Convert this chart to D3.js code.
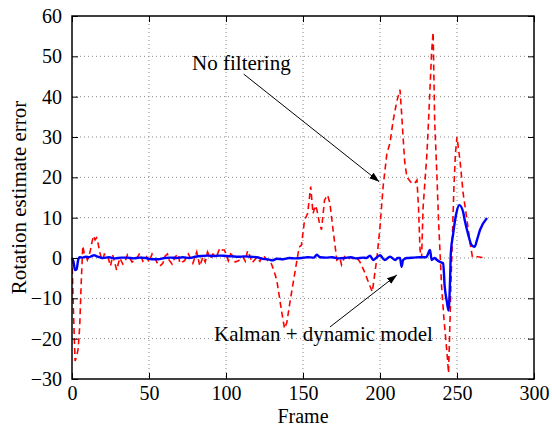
<!DOCTYPE html>
<html>
<head>
<meta charset="utf-8">
<script src="https://cdn.jsdelivr.net/npm/d3@7"></script>
<style>
  body { margin: 0; background: #fff; }
  svg text { font-family: "Liberation Serif", "Times New Roman", serif !important; }
</style>
</head>
<body>
<div id="chart"></div>
<script>
// x ticks / y ticks
var xTicks = [0, 50, 100, 150, 200, 250, 300];
var yTicks = [-30, -20, -10, 0, 10, 20, 30, 40, 50, 60];

// "No filtering" series (red dashed)
var rawFrames = [0, 1, 2, 3, 4, 5, 6, 7, 8, 9, 10, 11, 12, 13, 14, 15, 16, 17, 18, 19, 20, 21, 23, 25, 26.5, 29, 31, 33, 34.5, 36, 37.5, 39, 41, 43, 44, 46, 48.5, 50, 52, 54, 55, 57, 59, 60.5, 62, 63, 65, 67, 69, 70, 73, 75.5, 77, 78.5, 81, 83, 85, 86.5, 88, 90, 91.5, 94, 96, 97.5, 99, 101.5, 103, 104.5, 106, 108, 111, 112.5, 114, 115.5, 117, 120, 122, 124, 127, 129, 131, 133, 136, 138, 139.5, 141.5, 145, 147.5, 149, 151, 153, 155, 156.5, 158, 159, 160.5, 162, 164, 166, 167.5, 169.5, 172, 174, 175, 177, 179, 181, 183, 185, 187, 190, 192, 195, 198, 200, 202, 204.5, 206.5, 208.5, 211, 213, 214, 215, 216, 217.5, 220.5, 222.5, 224, 225, 226, 227, 228, 230.5, 232, 233.5, 234.5, 235.5, 237, 238, 239, 240, 241.5, 243.5, 244.5, 245.5, 246, 247, 248, 249, 250, 252, 254, 256.5, 258.5, 260, 263.5, 269];
var rawValues = [0, -14, -25.5, -24.5, -22.5, -17, -6, 3, 1, 0.5, -0.5, 0.5, 2, 4, 5.5, 4.5, 5, 3.5, 1.5, 0, -0.5, 1, 0.7, -2, 0.7, -3, 0, -1.5, -0.8, 0.8, 0, -1, -0.5, 0.5, 1.2, -0.8, 0.3, -1, 1, 0, -1, -2, -1.3, 0.5, 1, -0.5, -1.5, 0.3, 1, -1.3, -0.7, 1, 0, -1.3, 1.5, -2, 0.3, -1, 1.5, 0, 1, 0.5, 2.5, 2, 2, -0.7, 1, 0.5, -1, -0.7, 0.3, -0.8, 1.8, 0.5, -1.2, 0.2, -0.8, 0.7, -0.6, -1, -3, -5.5, -13, -17.5, -16, -11, -3, 2.7, 3.2, 9.4, 11, 17.7, 11, 13, 12, 9, 7, 14.4, 15.6, 13.5, 7, -0.5, 0, -1.7, 0.3, -0.5, 0.2, -0.3, 0, -1, -3.5, -5.5, -8.4, 0, 7.7, 17.6, 26, 28.5, 34, 39, 41.7, 36, 30, 24, 20, 18.6, 18.5, 19.3, 12.6, 2, 0, 12.6, 26, 38, 51, 56, 34, 20, 9.4, 1.2, -7, -15, -23.5, -28.5, -15, -7, 5, 17.6, 26, 30, 24, 16, 9.4, 3.7, 0.3, 0.3, 0];

// "Kalman + dynamic model" series (blue solid)
var kalFrames = [0, 1, 2, 3, 4, 5, 7, 9, 11, 13, 14.5, 16, 18, 20, 24, 28, 32, 36, 40, 44, 48, 52, 56, 60, 64, 68, 72, 76, 80, 84, 88, 92, 96, 100, 104, 108, 112, 116, 120, 124, 128, 130, 133, 137, 141, 145, 149, 153, 157, 159, 161, 165, 169, 173, 177, 181, 185, 189, 191, 193.5, 195.5, 198, 200, 203, 206.5, 210, 211.5, 213, 214, 215, 217.5, 222, 226, 230, 232.5, 233.5, 235.5, 237, 239, 241, 242, 243.5, 244.5, 245.5, 246, 247.5, 249.5, 251.5, 254, 255, 257, 259.5, 261.5, 263, 265, 269.5];
var kalValues = [0, -1, -3, -2.8, -0.5, 0.2, 0.1, 0.3, 0.2, 0.5, 0.7, 0.4, 0.2, 0, 0.2, -0.1, 0.1, 0.1, -0.1, 0.1, 0, -0.3, -0.3, 0, 0.1, 0, 0.2, 0, 0.3, 0.5, 0.6, 0.5, 0.6, 0.5, 0.4, 0.3, 0.4, 0.3, 0.2, -0.2, -0.4, -0.6, -0.2, -0.3, 0, -0.1, 0, 0.2, 0.1, 0.8, 0.2, 0.1, 0.2, -0.1, 0, 0.2, -0.1, 0.1, 0, 0.6, -0.5, 0.2, 0.7, -0.5, 0.3, -0.5, 0, 0, -2.2, -0.5, 0, 0.1, 0.2, 0.2, 2, -0.5, 0, -0.5, -1, -1.3, -7, -11, -13, -5.5, 1.2, 6, 11, 13.1, 11.4, 9.4, 6.2, 3.2, 2.8, 4.5, 7, 9.9];

// annotations, in data units
var noteLabels = ["No filtering", "Kalman + dynamic model"];
var noteText = [[78, 46.6], [92.2, -20.6]];
var noteArrowFrom = [[111.5, 45.6], [167.5, -17.1]];
var noteArrowTo = [[199.5, 18.9], [211, -4.2]];

var W = 552, H = 427;
var margin = {left: 72, right: 18, top: 16, bottom: 48};
var w = W - margin.left - margin.right;
var h = H - margin.top - margin.bottom;
var serif = "'Liberation Serif', 'Times New Roman', serif";

var svg = d3.select("#chart").append("svg")
  .attr("width", W).attr("height", H)
  .style("font-family", serif);

var x = d3.scaleLinear().domain([0, 300]).range([0, w]);
var y = d3.scaleLinear().domain([-30, 60]).range([h, 0]);

var g = svg.append("g").attr("transform", "translate(" + margin.left + "," + margin.top + ")");

// grid
g.selectAll("line.gx").data(xTicks.slice(1, -1)).enter().append("line")
  .attr("x1", function(d) { return x(d); }).attr("x2", function(d) { return x(d); })
  .attr("y1", 0).attr("y2", h)
  .attr("stroke", "#888").attr("stroke-width", 1).attr("stroke-dasharray", "1,3");
g.selectAll("line.gy").data(yTicks.slice(1, -1)).enter().append("line")
  .attr("y1", function(d) { return y(d); }).attr("y2", function(d) { return y(d); })
  .attr("x1", 0).attr("x2", w)
  .attr("stroke", "#888").attr("stroke-width", 1).attr("stroke-dasharray", "1,3");

var defs = svg.append("defs");
defs.append("clipPath").attr("id", "clip").append("rect").attr("width", w).attr("height", h);

// series
var rawLine = d3.line()
  .x(function(d, i) { return x(rawFrames[i]); })
  .y(function(d) { return y(d); });
g.append("path").datum(rawValues)
  .attr("clip-path", "url(#clip)")
  .attr("d", rawLine)
  .attr("fill", "none").attr("stroke", "#ff0000")
  .attr("stroke-width", 1.6).attr("stroke-dasharray", "6,4");

var kalLine = d3.line()
  .x(function(d, i) { return x(kalFrames[i]); })
  .y(function(d) { return y(d); })
  .curve(d3.curveMonotoneX);
g.append("path").datum(kalValues)
  .attr("d", kalLine)
  .attr("fill", "none").attr("stroke", "#0000ff")
  .attr("stroke-width", 2.4).attr("stroke-linejoin", "round");

// axes (ticks inside, box all round)
function styleAxis(sel) {
  sel.attr("font-family", serif).attr("font-size", 20);
  sel.select(".domain").remove();
  sel.selectAll(".tick line").attr("stroke", "#000");
  sel.selectAll("text").attr("fill", "#000").style("font-family", serif).style("font-size", "20px");
}
g.append("g").attr("transform", "translate(0," + h + ")")
  .call(d3.axisBottom(x).tickValues(xTicks).tickSizeInner(-6).tickSizeOuter(0).tickPadding(7))
  .call(styleAxis);
g.append("g")
  .call(d3.axisTop(x).tickValues(xTicks).tickSizeInner(-6).tickSizeOuter(0).tickFormat(""))
  .call(styleAxis);
g.append("g")
  .call(d3.axisLeft(y).tickValues(yTicks).tickSizeInner(-6).tickSizeOuter(0).tickPadding(10))
  .call(styleAxis);
g.append("g").attr("transform", "translate(" + w + ",0)")
  .call(d3.axisRight(y).tickValues(yTicks).tickSizeInner(-6).tickSizeOuter(0).tickFormat(""))
  .call(styleAxis);

g.append("rect").attr("width", w).attr("height", h)
  .attr("fill", "none").attr("stroke", "#000").attr("stroke-width", 1.5);

// axis titles
svg.append("text")
  .attr("x", margin.left + w / 2).attr("y", 423)
  .attr("text-anchor", "middle").style("font-size", "20px")
  .text("Frame");
svg.append("text")
  .attr("transform", "translate(26," + (margin.top + y(15)) + ") rotate(-90)")
  .attr("text-anchor", "middle").style("font-size", "21px")
  .text("Rotation estimate error");

// annotations
defs.append("marker").attr("id", "arrow")
  .attr("viewBox", "0 0 10 10").attr("refX", 10).attr("refY", 5)
  .attr("markerWidth", 10).attr("markerHeight", 10)
  .attr("markerUnits", "userSpaceOnUse")
  .attr("orient", "auto")
  .append("path").attr("d", "M0,1.5 L10,5 L0,8.5 Z").attr("fill", "#000");

noteLabels.forEach(function(label, i) {
  g.append("text")
    .attr("x", x(noteText[i][0])).attr("y", y(noteText[i][1]))
    .style("font-size", "21px").text(label);
  g.append("line")
    .attr("x1", x(noteArrowFrom[i][0])).attr("y1", y(noteArrowFrom[i][1]))
    .attr("x2", x(noteArrowTo[i][0])).attr("y2", y(noteArrowTo[i][1]))
    .attr("stroke", "#000").attr("stroke-width", 1)
    .attr("marker-end", "url(#arrow)");
});
</script>
</body>
</html>
